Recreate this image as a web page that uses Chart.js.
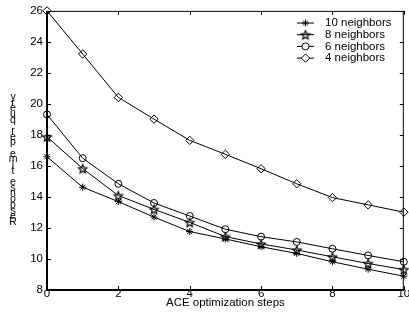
<!DOCTYPE html>
<html lang="en">
<head>
<meta charset="utf-8" />
<title>Response time per query</title>
<script src="https://cdn.jsdelivr.net/npm/chart.js"></script>
<style>
  html, body { margin: 0; padding: 0; background: #fff; }
  #wrap { width: 409px; height: 323px; }
</style>
</head>
<body>
<div id="wrap"><canvas id="myChart" width="409" height="323"></canvas></div>
<script>
// data
const steps = [0, 1, 2, 3, 4, 5, 6, 7, 8, 9, 10];
const seriesNames = ['10 neighbors', '8 neighbors', '6 neighbors', '4 neighbors'];
const n10 = [16.59, 14.63, 13.70, 12.70, 11.77, 11.29, 10.79, 10.36, 9.82, 9.34, 8.89];
const n8 = [17.88, 15.83, 14.09, 13.20, 12.36, 11.44, 10.97, 10.58, 10.14, 9.71, 9.32];
const n6 = [19.32, 16.50, 14.85, 13.61, 12.77, 11.92, 11.44, 11.10, 10.66, 10.23, 9.82];
const n4 = [26.00, 23.22, 20.42, 19.02, 17.65, 16.75, 15.82, 14.85, 13.96, 13.49, 13.02];
const xTicks = [0, 2, 4, 6, 8, 10];
const yTicks = [8, 10, 12, 14, 16, 18, 20, 22, 24, 26];
const xTitle = 'ACE optimization steps';
const yTitle = 'Response time per query';

const FONT = '"Liberation Sans", Arial, sans-serif';

// five-pointed star marker (no built-in one in chart.js)
function makePentagram(r) {
  var size = Math.ceil(r * 2 + 3);
  var c = document.createElement('canvas');
  c.width = size; c.height = size;
  var g = c.getContext('2d');
  var cx = size / 2, cy = size / 2 + 0.5;
  g.beginPath();
  for (var i = 0; i < 10; i++) {
    var rad = (i % 2 == 0) ? r : r * 0.45;
    var a = -Math.PI / 2 + i * Math.PI / 5;
    var px = cx + rad * Math.cos(a), py = cy + rad * Math.sin(a);
    if (i == 0) g.moveTo(px, py); else g.lineTo(px, py);
  }
  g.closePath();
  g.strokeStyle = '#000';
  g.lineWidth = 1.2;
  g.stroke();
  return c;
}
const pentagram = makePentagram(4.5);

const styles = [
  { pointStyle: 'star', radius: 3.5 },
  { pointStyle: pentagram, radius: 4 },
  { pointStyle: 'circle', radius: 3.5 },
  { pointStyle: 'rectRot', radius: 4.2 }
];

function makeSet(name, values, i) {
  return {
    label: name,
    data: values,
    borderColor: '#000',
    borderWidth: 1,
    backgroundColor: 'rgba(0,0,0,0)',
    pointStyle: styles[i].pointStyle,
    pointRadius: styles[i].radius,
    pointBorderColor: '#000',
    pointBorderWidth: 1,
    pointBackgroundColor: 'rgba(0,0,0,0)',
    fill: false,
    tension: 0,
    clip: false
  };
}

// box, inward ticks, legend and the stacked y label
const matlabLook = {
  id: 'matlabLook',
  afterDraw: function (chart) {
    var ctx = chart.ctx;
    var a = chart.chartArea;
    var xs = chart.scales.x, ys = chart.scales.y;
    ctx.save();
    ctx.strokeStyle = '#000';

    // frame
    ctx.lineWidth = 1;
    ctx.beginPath();
    ctx.moveTo(a.left, a.top + 0.5); ctx.lineTo(a.right, a.top + 0.5);
    ctx.moveTo(a.right - 0.5, a.top); ctx.lineTo(a.right - 0.5, a.bottom);
    ctx.stroke();
    ctx.lineWidth = 2;
    ctx.beginPath();
    ctx.moveTo(a.left, a.top); ctx.lineTo(a.left, a.bottom);
    ctx.lineTo(a.right, a.bottom);
    ctx.stroke();

    // ticks pointing in
    ctx.lineWidth = 1;
    ctx.beginPath();
    xTicks.forEach(function (v) {
      var px = Math.round(xs.getPixelForValue(v)) + 0.5;
      ctx.moveTo(px, a.bottom); ctx.lineTo(px, a.bottom - 4);
      ctx.moveTo(px, a.top); ctx.lineTo(px, a.top + 4);
    });
    yTicks.forEach(function (v) {
      var py = Math.round(ys.getPixelForValue(v)) + 0.5;
      ctx.moveTo(a.left, py); ctx.lineTo(a.left + 4, py);
      ctx.moveTo(a.right, py); ctx.lineTo(a.right - 4, py);
    });
    ctx.stroke();

    // legend (no box)
    ctx.font = '11.5px ' + FONT;
    ctx.textBaseline = 'middle';
    ctx.textAlign = 'left';
    chart.data.datasets.forEach(function (ds, i) {
      var y = 23 + i * 11.7;
      ctx.lineWidth = 1;
      ctx.beginPath();
      ctx.moveTo(297, y); ctx.lineTo(314, y);
      ctx.stroke();
      ctx.fillStyle = '#fff';
      Chart.helpers.drawPoint(ctx, {
        pointStyle: ds.pointStyle, radius: ds.pointRadius, rotation: 0, borderWidth: 1
      }, 305.5, y);
      ctx.fillStyle = '#000';
      ctx.fillText(ds.label, 325, y);
    });

    // y label: upright letters stacked, last letter on top
    ctx.font = '10.5px ' + FONT;
    ctx.textAlign = 'center';
    ctx.fillStyle = '#000';
    var letters = yTitle.split('').reverse();
    var top = 97, bottom = 222;
    var step = (bottom - top) / (letters.length - 1);
    letters.forEach(function (ch, i) {
      ctx.fillText(ch, 13, top + i * step);
    });
    ctx.restore();
  }
};

new Chart(document.getElementById('myChart'), {
  type: 'line',
  data: {
    labels: steps,
    datasets: [makeSet(seriesNames[0], n10, 0), makeSet(seriesNames[1], n8, 1),
               makeSet(seriesNames[2], n6, 2), makeSet(seriesNames[3], n4, 3)]
  },
  options: {
    responsive: false,
    animation: false,
    devicePixelRatio: 1,
    layout: { padding: { top: 10, right: 5, left: 0, bottom: 0 } },
    plugins: { legend: { display: false }, tooltip: { enabled: false } },
    scales: {
      x: {
        type: 'linear', min: 0, max: 10,
        grid: { display: false, drawTicks: false },
        border: { display: false },
        afterBuildTicks: function (s) { s.ticks = xTicks.map(function (v) { return { value: v }; }); },
        afterFit: function (s) { s.height = 33; },
        ticks: { color: '#000', padding: -3, maxRotation: 0, font: { family: FONT, size: 11.5 } },
        title: { display: true, text: xTitle, color: '#000', padding: { top: 0, bottom: 13 }, font: { family: FONT, size: 11.5 } }
      },
      y: {
        min: 8, max: 26,
        grid: { display: false, drawTicks: false },
        border: { display: false },
        afterBuildTicks: function (s) { s.ticks = yTicks.map(function (v) { return { value: v }; }); },
        afterFit: function (s) { s.width = 47; },
        ticks: { color: '#000', padding: 4, font: { family: FONT, size: 11.5 } }
      }
    }
  },
  plugins: [matlabLook]
});
</script>
</body>
</html>
